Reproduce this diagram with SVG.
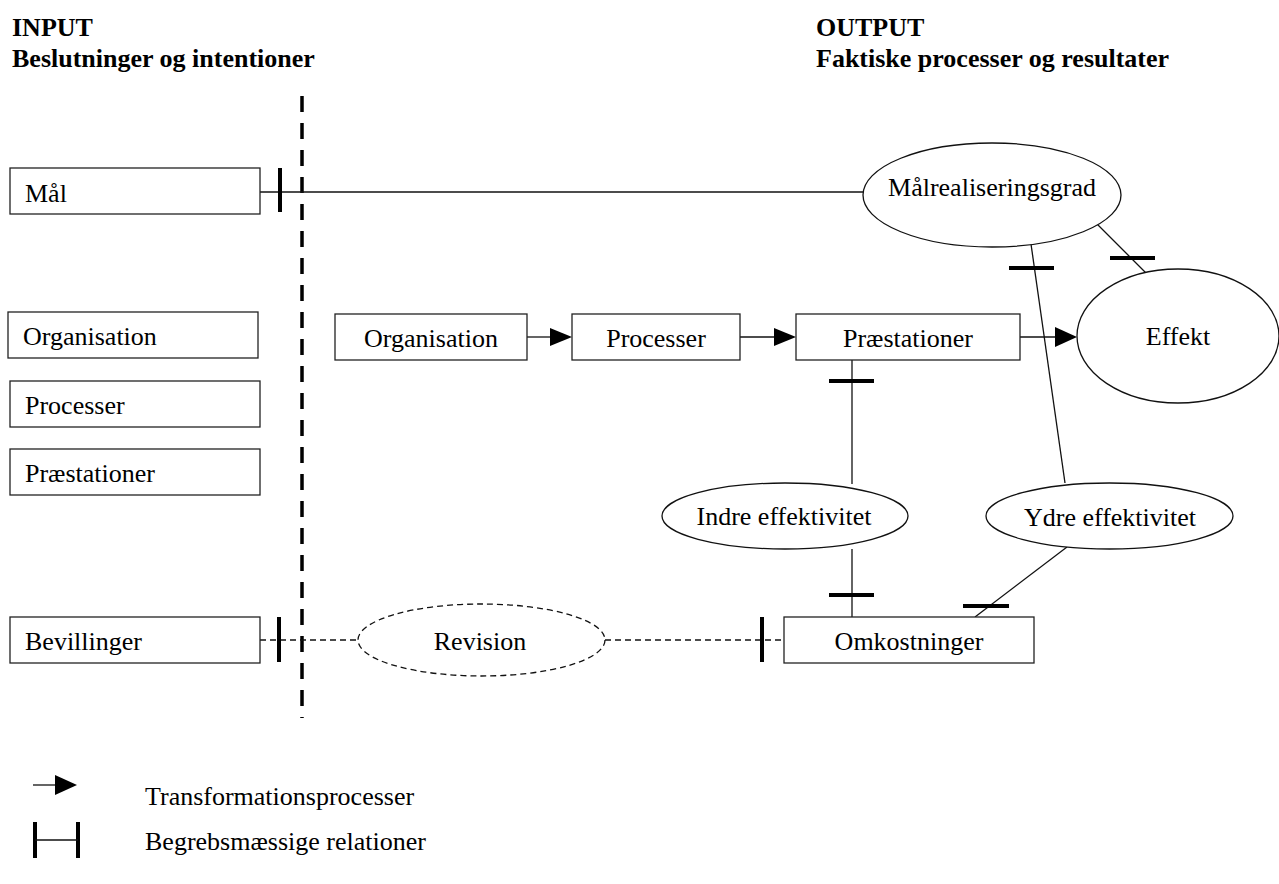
<svg xmlns="http://www.w3.org/2000/svg" width="1279" height="884" viewBox="0 0 1279 884">
<style>
text{font-family:"Liberation Serif","Times New Roman",serif;font-size:26px;fill:#000}
.h{font-weight:bold}
.c{text-anchor:middle}
.box{fill:#fff;stroke:#222;stroke-width:1.3}
.ell{fill:#fff;stroke:#111;stroke-width:1.3}
.dell{fill:#fff;stroke:#111;stroke-width:1.3;stroke-dasharray:6 4}
.ln{stroke:#111;stroke-width:1.3;fill:none}
.dln{stroke:#111;stroke-width:1.3;fill:none;stroke-dasharray:6 4}
.tk{stroke:#000;stroke-width:4;fill:none}
.ah{fill:#000}
</style>
<g id="headers">
<text class="h" x="12" y="36">INPUT</text>
<text class="h" x="12" y="67">Beslutninger og intentioner</text>
<text class="h" x="816" y="36">OUTPUT</text>
<text class="h" x="816" y="67">Faktiske processer og resultater</text>
</g>
<g id="divider"><line x1="302" y1="96" x2="302" y2="718" stroke="#000" stroke-width="3.5" stroke-dasharray="16 11"/></g>
<g id="connectors">
<line class="ln" x1="260" y1="192" x2="863" y2="192"/>
<line class="tk" x1="280" y1="168" x2="280" y2="212"/>
<line class="ln" x1="527" y1="337" x2="551" y2="337"/>
<polygon class="ah" points="550,328 572,337 550,346"/>
<line class="ln" x1="740" y1="337" x2="775" y2="337"/>
<polygon class="ah" points="774,328 796,337 774,346"/>
<line class="ln" x1="1020" y1="337" x2="1056" y2="337"/>
<polygon class="ah" points="1055,327 1077,337 1055,347"/>
<line class="ln" x1="1095" y1="222" x2="1146" y2="273"/>
<line class="tk" x1="1110" y1="258" x2="1155" y2="258"/>
<line class="ln" x1="1031" y1="244" x2="1065" y2="483"/>
<line class="tk" x1="1009" y1="268" x2="1054" y2="268"/>
<line class="ln" x1="852" y1="360" x2="852" y2="484"/>
<line class="tk" x1="829" y1="381" x2="874" y2="381"/>
<line class="ln" x1="852" y1="549" x2="852" y2="617"/>
<line class="tk" x1="829" y1="595" x2="874" y2="595"/>
<line class="ln" x1="1067" y1="547" x2="975" y2="617"/>
<line class="tk" x1="963" y1="606" x2="1009" y2="606"/>
<line class="dln" x1="260" y1="640" x2="358" y2="640"/>
<line class="tk" x1="279" y1="617" x2="279" y2="662"/>
<line class="dln" x1="605" y1="640" x2="784" y2="640"/>
<line class="tk" x1="762" y1="617" x2="762" y2="662"/>
</g>
<g id="n-maal"><rect class="box" x="10" y="168" width="250" height="46"/><text x="25" y="202">Mål</text></g>
<g id="n-org-in"><rect class="box" x="8" y="312" width="250" height="46"/><text x="23" y="345">Organisation</text></g>
<g id="n-proc-in"><rect class="box" x="10" y="381" width="250" height="46"/><text x="25" y="414">Processer</text></g>
<g id="n-praest-in"><rect class="box" x="10" y="449" width="250" height="46"/><text x="25" y="482">Præstationer</text></g>
<g id="n-bev"><rect class="box" x="10" y="617" width="250" height="46"/><text x="25" y="650">Bevillinger</text></g>
<g id="n-org"><rect class="box" x="335" y="314" width="192" height="46"/><text class="c" x="431" y="347">Organisation</text></g>
<g id="n-proc"><rect class="box" x="572" y="314" width="168" height="46"/><text class="c" x="656" y="347">Processer</text></g>
<g id="n-praest"><rect class="box" x="796" y="314" width="224" height="46"/><text class="c" x="908" y="347">Præstationer</text></g>
<g id="n-omk"><rect class="box" x="784" y="617" width="250" height="46"/><text class="c" x="909" y="650">Omkostninger</text></g>
<g id="n-malreal"><ellipse class="ell" cx="992" cy="195" rx="129" ry="52"/><text class="c" x="992" y="196">Målrealiseringsgrad</text></g>
<g id="n-effekt"><ellipse class="ell" cx="1178" cy="336" rx="101" ry="67"/><text class="c" x="1178" y="345">Effekt</text></g>
<g id="n-indre"><ellipse class="ell" cx="785" cy="516" rx="123" ry="33"/><text class="c" x="784" y="525">Indre effektivitet</text></g>
<g id="n-ydre"><ellipse class="ell" cx="1109.5" cy="516" rx="123.5" ry="33"/><text class="c" x="1110" y="526">Ydre effektivitet</text></g>
<g id="n-rev"><ellipse class="dell" cx="481.5" cy="640" rx="123.5" ry="36"/><text class="c" x="480" y="650">Revision</text></g>
<g id="legend">
<line class="ln" x1="33" y1="785" x2="56" y2="785"/>
<polygon class="ah" points="55,775 77,785 55,795"/>
<text x="145" y="805">Transformationsprocesser</text>
<line class="tk" x1="35" y1="822" x2="35" y2="858"/>
<line class="tk" x1="78" y1="822" x2="78" y2="858"/>
<line class="ln" x1="35" y1="840" x2="78" y2="840"/>
<text x="145" y="850">Begrebsmæssige relationer</text>
</g>
</svg>
